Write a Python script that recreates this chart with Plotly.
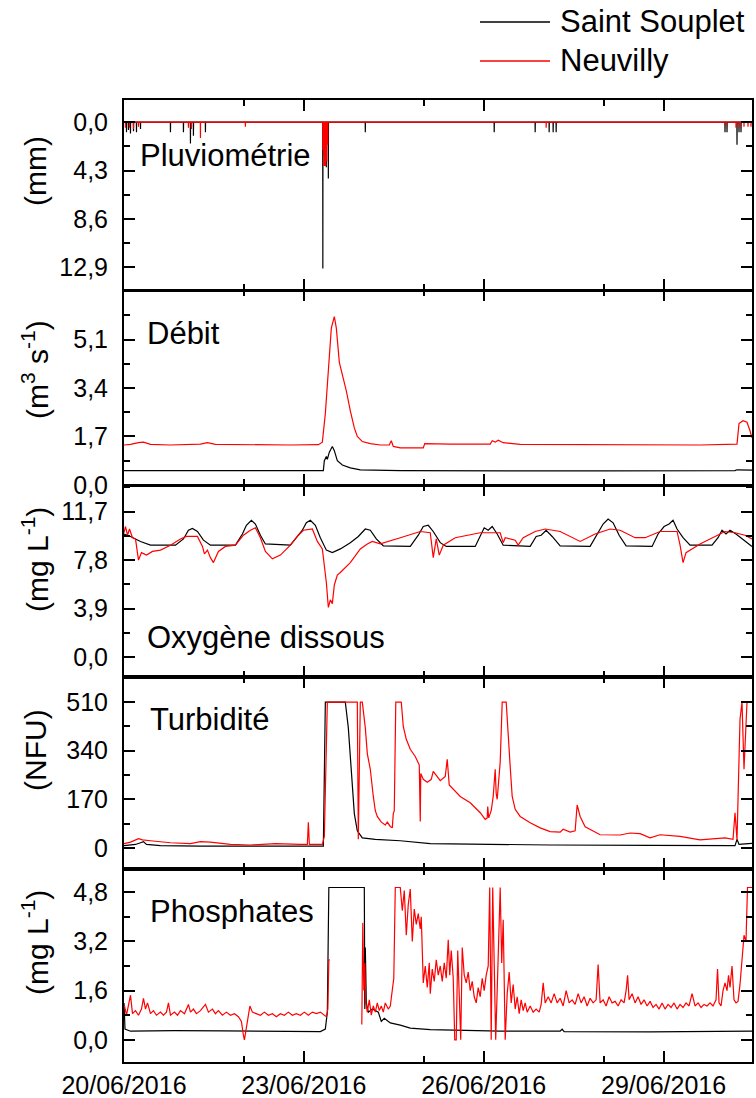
import pandas as pd
import plotly.graph_objects as go
from plotly.subplots import make_subplots

T0 = pd.Timestamp("2016-06-20 00:00")
T_END_H = 251.4

# ---------------- DATA (time in hours since 20/06/2016 00:00) ----------------
# Pluviométrie (mm) : rain events
rain_ss_h = [1.0, 1.8, 2.6, 3.8, 5.0, 6.6, 18.6, 23.8, 26.6, 27.8, 32.6, 79.6, 80.2, 81.0, 81.8,
             96.6, 148.2, 164.6, 170.2, 171.8, 173.0, 240.6, 241.4, 245.4, 246.2, 247.0]
rain_ss_v = [0.9, 0.7, 1.0, 0.8, 0.9, 0.6, 0.9, 0.9, 1.9, 1.2, 0.9, 13.0, 3.0, 4.0, 5.0,
             0.9, 0.9, 0.9, 0.9, 0.9, 0.9, 0.9, 0.9, 2.0, 0.9, 0.9]
rain_nv_h = [0.6, 2.2, 3.8, 5.8, 25.8, 27.0, 30.6, 48.6, 79.6, 80.0, 80.4, 80.8, 81.2, 81.6,
             169.0, 241.0, 245.0, 246.6, 248.2, 249.8, 251.0]
rain_nv_v = [0.5, 0.5, 0.6, 0.4, 0.5, 0.6, 1.4, 0.4, 2.5, 3.9, 3.9, 3.9, 3.5, 2.0,
             0.5, 0.3, 0.5, 0.5, 0.4, 0.4, 0.4]

# Débit (m3 s-1)
q_ss_h = [0, 30.6, 70.6, 79.8, 80.2, 81.0, 81.4, 82.2, 83.4, 84.2, 85.4, 87.4, 90.6, 94.6,
          110.6, 150.6, 190.6, 244.6, 245.4, 251.4]
q_ss_v = [0.50, 0.50, 0.50, 0.50, 0.85, 1.0, 0.9, 1.15, 1.35, 1.2, 0.85, 0.7, 0.6, 0.53,
          0.50, 0.49, 0.49, 0.50, 0.53, 0.52]
q_nv_h = [0, 2.6, 5.8, 7.8, 10.6, 18.6, 30.6, 33.4, 36.6, 50.6, 66.6, 77.8, 79.4, 80.6, 81.8,
          83.0, 84.2, 85.0, 86.2, 87.4, 89.0, 90.6, 92.2, 93.4, 95.4, 98.6, 102.6, 106.2, 107.0,
          107.8, 110.6, 119.8, 120.4, 130.6, 146.6, 147.4, 148.6, 149.8, 151.8, 158.6, 190.6,
          210.6, 230.6, 245.4, 246.2, 247.8, 249.4, 250.6, 251.4]
q_nv_v = [1.40, 1.42, 1.48, 1.50, 1.42, 1.40, 1.43, 1.48, 1.42, 1.40, 1.40, 1.41, 1.50, 2.5, 4.2,
          5.5, 5.9, 5.5, 4.3, 3.9, 3.3, 2.6, 2.0, 1.7, 1.52, 1.45, 1.40, 1.40, 1.55,
          1.35, 1.30, 1.30, 1.45, 1.43, 1.43, 1.55, 1.50, 1.57, 1.48, 1.42, 1.42,
          1.40, 1.40, 1.43, 2.15, 2.25, 2.2, 1.9, 1.65]

# Oxygène dissous (mg L-1)
o2_ss_h = [0, 2.6, 6.6, 10.6, 20.6, 23.8, 25.8, 27.4, 29.4, 31.8, 34.6, 44.6, 47.4, 49.0, 51.0,
           52.6, 54.6, 56.6, 66.6, 69.4, 71.4, 73.0, 74.6, 76.6, 78.6, 81.0, 83.4, 86.6, 90.6,
           93.8, 96.6, 98.6, 101.0, 103.8, 114.6, 117.8, 119.8, 121.8, 123.8, 126.6, 129.0,
           140.6, 142.6, 144.2, 145.8, 147.4, 149.4, 151.8, 162.6, 165.0, 167.0, 169.0, 171.4,
           174.6, 186.6, 189.4, 191.8, 193.8, 195.8, 198.2, 201.0, 211.4, 213.8, 216.2, 218.2,
           219.8, 221.4, 223.8, 226.6, 235.4, 237.8, 239.4, 241.0, 242.6, 245.0, 248.2, 251.4]
o2_ss_v = [9.9, 9.7, 9.3, 9.0, 9.0, 9.5, 10.2, 10.35, 10.1, 9.4, 9.0, 9.0, 9.9, 10.6, 11.0,
           10.7, 9.8, 9.1, 9.0, 9.7, 10.2, 10.8, 11.0, 10.6, 9.6, 8.6, 8.4, 8.7, 9.2,
           9.7, 10.3, 10.2, 9.5, 8.95, 8.9, 9.8, 10.5, 10.6, 10.1, 9.2, 8.9,
           8.9, 9.8, 10.4, 10.2, 10.5, 9.9, 9.0, 8.9, 9.7, 9.8, 10.2, 9.7,
           8.95, 8.9, 9.9, 10.7, 11.1, 10.8, 9.8, 8.95, 8.9, 9.9, 10.5, 10.7,
           11.0, 10.3, 9.6, 9.0, 9.0, 9.6, 10.2, 9.9, 10.2, 9.9, 9.4, 8.9]
o2_nv_h = [0, 0.6, 1.4, 2.2, 3.4, 4.6, 5.8, 7.0, 9.0, 11.4, 14.6, 18.6, 22.6, 25.0, 29.4, 31.4,
           32.2, 33.4, 34.6, 35.8, 37.8, 40.6, 44.6, 47.8, 50.6, 52.6, 54.6, 56.6, 59.4, 62.6,
           66.6, 69.8, 71.8, 75.4, 77.4, 79.4, 81.0, 81.8, 82.6, 83.4, 84.2, 85.4, 86.6, 90.6,
           94.6, 97.4, 99.4, 102.6, 110.6, 118.6, 122.6, 123.8, 125.0, 126.2, 127.8, 132.6,
           142.6, 150.6, 151.8, 152.6, 156.6, 157.8, 159.8, 164.6, 168.6, 174.6, 182.6, 188.6,
           194.6, 198.6, 204.6, 208.6, 214.6, 221.4, 222.6, 223.8, 225.0, 226.6, 230.6, 234.6,
           240.6, 244.6, 248.6, 251.4]
o2_nv_v = [10.0, 10.5, 9.8, 10.3, 9.6, 9.5, 7.8, 8.4, 8.2, 8.5, 8.6, 9.0, 9.5, 9.7, 9.7, 8.9,
           8.3, 8.6, 8.0, 7.6, 8.5, 8.9, 9.0, 9.8, 10.2, 10.4, 9.6, 8.5, 7.9, 8.2,
           9.0, 9.8, 10.2, 10.3, 9.3, 8.7, 6.0, 4.0, 4.6, 4.3, 5.8, 6.6, 6.8, 7.6,
           8.7, 9.1, 9.3, 9.1, 9.6, 10.1, 10.0, 8.0, 9.5, 8.2, 9.0, 9.6,
           10.0, 10.0, 9.2, 9.6, 9.4, 9.0, 9.6, 10.1, 10.3, 10.1, 9.3, 9.9,
           10.3, 10.2, 9.6, 9.6, 10.1, 10.1, 9.0, 7.6, 8.4, 8.6, 9.1, 9.5,
           10.1, 10.0, 9.8, 9.5]

# Turbidité (NFU)
tu_ss_h = [0, 4.6, 6.6, 7.8, 9.0, 14.6, 30.6, 50.6, 70.6, 79.8, 80.6, 88.6, 89.8, 91.0, 92.2,
           93.4, 95.4, 100.6, 110.6, 122.6, 142.6, 170.6, 210.6, 244.6, 245.4, 246.2, 248.6, 251.4]
tu_ss_v = [8, 12, 18, 22, 12, 8, 6, 5, 5, 6, 510, 510, 420, 250, 120,
           60, 35, 30, 25, 15, 12, 10, 9, 8, 30, 12, 14, 16]
tu_nv_h = [0, 2.6, 5.8, 7.4, 10.6, 18.6, 26.6, 30.6, 34.6, 42.6, 50.6, 60.6, 70.6, 73.4, 73.8,
           74.2, 79.4, 80.2, 81.4, 93.4, 93.8, 94.6, 95.4, 96.6, 97.4, 98.6, 99.8, 100.6, 101.4,
           103.0, 104.6, 105.4, 106.6, 107.4, 107.8, 108.2, 108.8, 111.0, 111.8, 113.0, 114.6,
           116.6, 118.2, 118.6, 118.8, 119.8, 121.4, 123.0, 123.8, 125.4, 126.6, 128.6, 129.4,
           130.2, 132.6, 134.6, 138.6, 142.6, 144.6, 145.4, 145.6, 146.0, 147.0, 147.8, 148.6,
           149.0, 149.4, 150.6, 151.4, 153.0, 154.6, 155.4, 156.6, 158.6, 162.6, 166.6, 170.6,
           174.6, 175.8, 178.6, 180.6, 181.4, 182.6, 184.6, 190.6, 198.6, 202.6, 206.6, 210.6,
           214.6, 222.6, 230.6, 240.6, 243.8, 244.6, 245.4, 246.6, 247.4, 248.2, 249.4, 251.4]
tu_nv_v = [15, 20, 32, 28, 25, 18, 15, 22, 20, 12, 10, 15, 12, 12, 90,
           12, 12, 40, 510, 510, 30, 510, 510, 420, 330, 275, 180, 130, 110,
           90, 80, 90, 75, 70, 120, 130, 510, 510, 425, 380, 345,
           320, 290, 92, 260, 240, 230, 240, 268, 250, 235, 250, 310,
           220, 200, 180, 158, 123, 100, 105, 145, 105, 130, 180, 275,
           190, 170, 300, 510, 510, 285, 180, 135, 110, 88, 70, 57,
           55, 65, 55, 60, 150, 110, 74, 46, 45, 52, 50, 35,
           46, 40, 28, 35, 30, 123, 28, 450, 510, 275, 510, 510]

# Phosphates (mg L-1)
po_ss_h = [0, 0.4, 2.6, 20, 40, 60, 70.6, 78.6, 80.6, 81.4, 82.0, 96.2, 96.4, 96.6, 97.0, 97.8,
           99.4, 101.8, 103.0, 104.2, 106.6, 110.6, 114.6, 122.6, 150.6, 174.6, 175.4, 176.2,
           210.6, 251.4]
po_ss_v = [1.2, 0.35, 0.28, 0.3, 0.29, 0.27, 0.26, 0.27, 0.35, 0.9, 4.95, 4.95, 1.0, 3.0, 1.2, 0.9,
           1.0, 0.9, 0.6, 0.7, 0.55, 0.48, 0.38, 0.33, 0.28, 0.28, 0.35, 0.27,
           0.26, 0.28]
po_nv_h = [0.2, 1.0, 2.6, 3.4, 4.6, 5.8, 7.0, 7.8, 8.6, 9.4, 10.6, 11.8, 13.0, 14.6, 15.8, 17.0,
           17.8, 18.6, 20.2, 21.4, 22.6, 24.2, 25.8, 26.6, 27.8, 29.0, 30.6, 32.6, 33.8, 35.4,
           36.6, 37.8, 39.4, 41.0, 42.6, 44.2, 45.8, 47.0, 47.8, 48.2, 49.0, 49.8, 50.4, 51.4,
           53.0, 54.6, 56.2, 57.8, 59.4, 61.0, 62.6, 64.2, 65.8, 67.4, 69.0, 70.6, 72.2, 73.8,
           75.4, 77.0, 78.6, 80.2, 81.0, 81.6, 82.0, 82.4, 88.0,
           95.2, 95.6, 96.0, 96.4, 96.8, 97.4, 98.2, 99.0, 99.8, 100.6, 101.4, 102.2, 103.0,
           103.8, 104.6, 105.8, 106.6, 107.4, 108.0, 108.6, 110.6, 111.4, 112.2, 113.0, 113.8,
           114.6, 115.4, 116.2, 117.0, 117.8, 118.6, 119.0, 119.4, 119.8, 120.6, 121.4, 122.2,
           122.6, 123.4, 124.2, 125.0, 125.8, 126.6, 127.4, 128.2, 129.0, 129.8, 130.4, 131.0,
           131.8, 132.4, 133.0, 133.6, 134.2, 134.8, 135.4, 136.2, 137.0, 137.8, 138.6, 139.4,
           140.2, 141.0, 141.8, 142.6, 143.4, 144.2, 145.0, 145.8, 146.4, 147.0, 147.6, 148.2,
           148.8, 149.4, 150.0, 150.6, 151.2, 151.8, 152.6, 153.4, 154.2, 155.0, 155.8, 156.6,
           157.4, 158.2, 159.0, 159.8, 160.6, 161.4, 162.6, 163.8, 165.0, 166.2, 167.0, 167.8,
           168.6, 169.8, 171.0, 172.2, 173.4, 174.6, 175.8, 177.0, 178.2, 179.4, 180.6, 181.8,
           183.0, 184.2, 185.4, 186.6, 187.8, 189.0, 189.8, 190.6, 191.8, 193.0, 194.2, 195.4,
           196.6, 197.8, 199.0, 200.2, 201.0, 201.6, 202.2, 203.4, 204.6, 205.8, 207.0, 208.2,
           209.4, 210.6, 211.8, 213.0, 214.2, 215.4, 216.6, 217.8, 219.0, 220.2, 221.4, 222.6,
           223.8, 225.0, 226.2, 227.4, 228.6, 229.8, 231.0, 232.2, 233.4, 234.6, 235.8, 237.0,
           237.6, 238.2, 239.0, 239.8, 240.6, 241.4, 242.0, 242.6, 243.4, 244.2, 245.0, 245.8,
           246.6, 247.4, 248.2, 249.0, 249.6, 251.4]
po_nv_v = [1.1, 0.8, 1.45, 0.85, 0.95, 0.8, 1.0, 1.35, 1.0, 1.2, 0.85, 0.95, 0.8, 0.9, 0.8, 0.9,
           1.2, 0.8, 0.9, 0.8, 0.95, 0.85, 1.15, 0.9, 1.0, 0.85, 0.95, 1.15, 0.9, 1.0,
           0.85, 0.95, 0.8, 0.9, 0.8, 0.85, 0.75, 0.6, 0.15, 0.0, 0.4, 0.8, 1.1, 0.9,
           0.85, 0.8, 0.9, 0.8, 0.85, 0.75, 0.85, 0.8, 0.9, 0.8, 0.85, 0.8, 0.9, 0.8,
           0.9, 0.85, 0.9, 0.8, 0.75, 1.0, 2.6, 2.6, None,
           0.5, 3.8, 1.6, 2.5, 1.2, 0.9, 1.3, 0.8, 1.1, 0.9, 1.2, 0.95, 1.1,
           0.9, 1.2, 1.0, 1.1, 1.7, 2.0, 4.95, 4.95, 4.2, 4.85, 3.4, 4.4,
           4.9, 3.2, 4.25, 3.75, 4.1, 3.6, 4.0, 3.0, 1.85, 2.4, 1.7, 2.5,
           1.5, 2.3, 1.9, 2.6, 2.1, 2.4, 1.9, 2.5, 2.0, 3.25, 2.1, 2.9,
           2.0, 0.0, 0.0, 2.9, 1.5, 0.0, 3.0, 2.1, 1.85, 2.2, 1.6, 1.9,
           1.4, 1.2, 1.7, 1.4, 2.0, 1.6, 2.1, 2.4, 4.95, 0.0, 4.95, 2.0,
           0.0, 1.6, 3.2, 4.95, 2.5, 3.9, 0.0, 1.5, 2.2, 1.2, 1.8, 1.0,
           1.4, 0.85, 1.3, 0.95, 1.2, 0.9, 1.1, 0.9, 1.0, 0.9, 1.15, 1.85,
           1.2, 1.4, 1.2, 1.5, 1.2, 1.35, 1.1, 1.6, 1.2, 1.3, 1.15, 1.5,
           1.2, 1.4, 1.1, 1.35, 1.2, 1.3, 2.45, 1.2, 1.3, 1.1, 1.4, 1.2,
           1.25, 1.1, 1.3, 1.2, 1.6, 2.1, 1.3, 1.5, 1.2, 1.4, 1.15, 1.3,
           1.1, 1.25, 1.05, 1.15, 1.0, 1.2, 1.0, 1.15, 1.05, 1.2, 1.0, 1.15,
           1.05, 1.2, 1.1, 1.5, 1.1, 1.2, 1.05, 1.15, 1.1, 1.2, 1.1, 1.3,
           2.3, 1.2, 1.1, 1.6, 1.85, 1.6, 2.1, 1.7, 2.4, 1.3, 1.2, 1.25,
           1.8, 2.5, 3.4, 3.2, 4.95, 4.95]

# Axis ticks
x_major = ["2016-06-20", "2016-06-23", "2016-06-26", "2016-06-29"]
x_major_text = ["20/06/2016", "23/06/2016", "26/06/2016", "29/06/2016"]
x_minor = ["2016-06-22", "2016-06-25", "2016-06-28"]

y_ticks = [
    dict(vals=[0, 4.3, 8.6, 12.9], text=["0,0", "4,3", "8,6", "12,9"], minor=[2.15, 6.45, 10.75], rng=[14.96, -1.97]),
    dict(vals=[0, 1.7, 3.4, 5.1], text=["0,0", "1,7", "3,4", "5,1"], minor=[0.85, 2.55, 4.25, 5.95], rng=[-0.02, 6.82]),
    dict(vals=[0, 3.9, 7.8, 11.7], text=["0,0", "3,9", "7,8", "11,7"], minor=[1.95, 5.85, 9.75, 13.65], rng=[-1.6, 13.8]),
    dict(vals=[0, 170, 340, 510], text=["0", "170", "340", "510"], minor=[85, 255, 425, 595], rng=[-74, 598]),
    dict(vals=[0, 1.6, 3.2, 4.8], text=["0,0", "1,6", "3,2", "4,8"], minor=[0.8, 2.4, 4.0], rng=[-0.72, 5.55]),
]
panel_names = ["Pluviométrie", "Débit", "Oxygène dissous", "Turbidité", "Phosphates"]
y_titles = ["(mm)", "(m<sup>3</sup> s<sup>-1</sup>)", "(mg L<sup>-1</sup>)", "(NFU)", "(mg L<sup>-1</sup>)"]
legend_names = ["Saint Souplet", "Neuvilly"]

# ---------------- FIGURE ----------------
FONT = "Liberation Sans, Arial, sans-serif"
BLACK = "#000000"
RED = "#ff0000"
COLORS = [BLACK, RED]


def to_time(hours):
    return [None if h is None else T0 + pd.Timedelta(hours=h) for h in hours]


def stems(hs, vs):
    xs, ys = [0.0], [0.0]
    for h, v in sorted(zip(hs, vs)):
        xs += [h - 0.05, h, h + 0.05]
        ys += [0.0, v, 0.0]
    xs.append(T_END_H)
    ys.append(0.0)
    return xs, ys


fig = make_subplots(rows=5, cols=1, shared_xaxes=True, vertical_spacing=0)

series = [
    (stems(rain_ss_h, rain_ss_v), stems(rain_nv_h, rain_nv_v)),
    ((q_ss_h, q_ss_v), (q_nv_h, q_nv_v)),
    ((o2_ss_h, o2_ss_v), (o2_nv_h, o2_nv_v)),
    ((tu_ss_h, tu_ss_v), (tu_nv_h, tu_nv_v)),
    ((po_ss_h, po_ss_v), (po_nv_h, po_nv_v)),
]

for i, pair in enumerate(series):
    for k, (hs, vs) in enumerate(pair):
        fig.add_trace(go.Scatter(x=to_time(hs), y=vs, mode="lines", name=legend_names[k],
                                 line=dict(color=COLORS[k], width=1.2), showlegend=False,
                                 connectgaps=False), row=i + 1, col=1)

# domains (top -> bottom)
domains = [[0.8020, 1.0], [0.5993, 0.8020], [0.4002, 0.5993], [0.2006, 0.4002], [0.0, 0.2006]]

x_range = [T0, T0 + pd.Timedelta(hours=T_END_H)]
for i in range(5):
    row = i + 1
    fig.update_xaxes(
        type="date", range=x_range, showline=True, linecolor=BLACK, linewidth=1.6,
        mirror="allticks", ticks="inside", ticklen=11, tickwidth=2, tickcolor=BLACK,
        tickmode="array", tickvals=x_major, ticktext=x_major_text,
        minor=dict(tickmode="array", tickvals=x_minor, ticks="inside", ticklen=6,
                   tickwidth=2, tickcolor=BLACK, showgrid=False),
        showgrid=False, zeroline=False, showticklabels=(row == 5), automargin=False,
        tickfont=dict(family=FONT, size=25, color=BLACK), ticklabelstandoff=0,
        row=row, col=1)
    yt = y_ticks[i]
    fig.update_yaxes(
        domain=domains[i], range=yt["rng"], showline=True, linecolor=BLACK, linewidth=2,
        mirror="allticks", ticks="inside", ticklen=11, tickwidth=2, tickcolor=BLACK,
        tickmode="array", tickvals=yt["vals"], ticktext=yt["text"],
        minor=dict(tickmode="array", tickvals=yt["minor"], ticks="inside", ticklen=6,
                   tickwidth=2, tickcolor=BLACK, showgrid=False),
        showgrid=False, zeroline=False, automargin=False,
        tickfont=dict(family=FONT, size=25, color=BLACK), ticklabelstandoff=9,
        row=row, col=1)

PLOT_L, PLOT_R, PLOT_T, PLOT_B = 124, 752, 100, 1062
PW, PH = PLOT_R - PLOT_L, PLOT_B - PLOT_T


def px(x):
    return (x - PLOT_L) / PW


def py(y):
    return (PLOT_B - y) / PH


name_pos = [(138, 155), (145, 333), (145, 637), (148, 720), (148, 912)]
title_y = [171, 370, 560, 750, 943]
for i in range(5):
    fig.add_annotation(text=panel_names[i], xref="paper", yref="paper",
                       x=px(name_pos[i][0]), y=py(name_pos[i][1]), xanchor="left", yanchor="middle",
                       showarrow=False, font=dict(family=FONT, size=31, color=BLACK))
    fig.add_annotation(text=y_titles[i], xref="paper", yref="paper", textangle=-90,
                       x=px(35), y=py(title_y[i]), xanchor="center", yanchor="middle",
                       showarrow=False, font=dict(family=FONT, size=30, color=BLACK))

# manual legend (line sample + label)
legend_y = [22, 61]
for k in range(2):
    fig.add_shape(type="line", xref="paper", yref="paper",
                  x0=px(480), x1=px(550), y0=py(legend_y[k]), y1=py(legend_y[k]),
                  line=dict(color=COLORS[k], width=1.5))
    fig.add_annotation(text=legend_names[k], xref="paper", yref="paper",
                       x=px(558), y=py(legend_y[k]), xanchor="left", yanchor="middle",
                       showarrow=False, font=dict(family=FONT, size=31, color=BLACK))

fig.update_layout(
    width=756, height=1098,
    margin=dict(l=PLOT_L, r=756 - PLOT_R, t=PLOT_T, b=1098 - PLOT_B, autoexpand=False),
    paper_bgcolor="white", plot_bgcolor="white",
    font=dict(family=FONT, color=BLACK),
    showlegend=False,
)

fig.write_html("out.html", config={"displayModeBar": False, "staticPlot": True},
               post_script="document.body.style.margin='0';document.body.style.padding='0';"
                           "document.body.style.overflow='hidden';")
